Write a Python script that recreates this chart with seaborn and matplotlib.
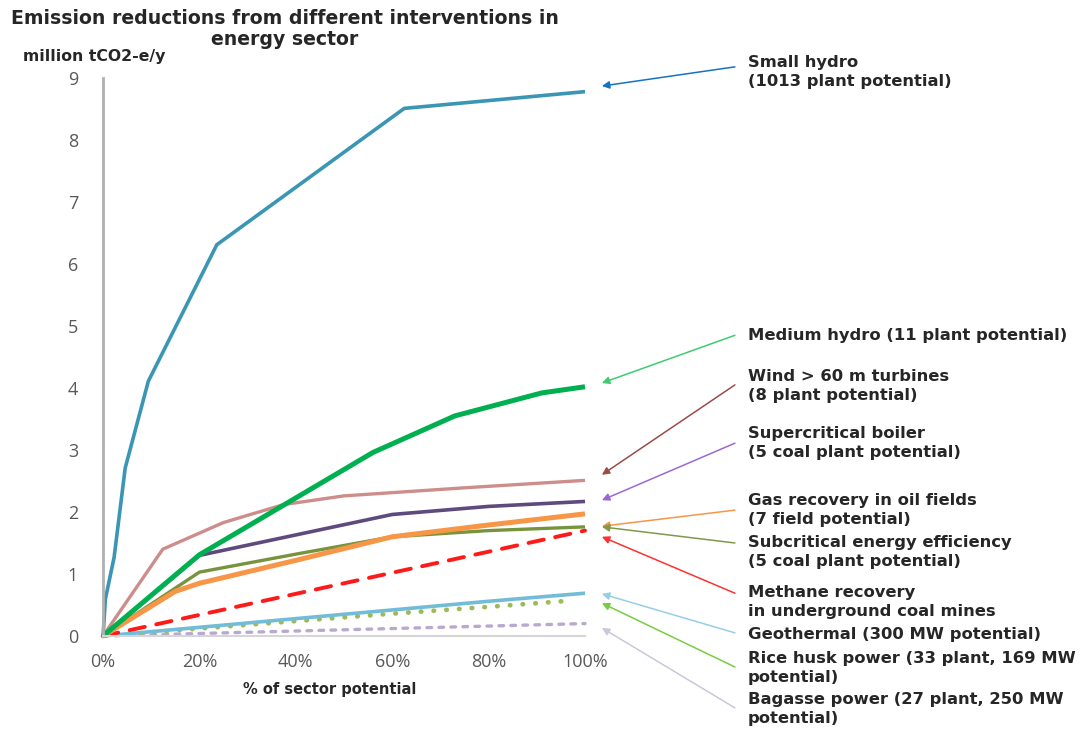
import numpy as np
import pandas as pd
import seaborn as sns
import matplotlib.pyplot as plt

# x = % of sector potential, y = million tCO2-e/y
small_hydro_x = [0, 0.5, 2.3, 4.6, 9.4, 23.6, 62.5, 100]
small_hydro_y = [0, 0.6, 1.27, 2.71, 4.11, 6.31, 8.51, 8.78]
medium_hydro_x = [0, 20, 56, 73, 91, 100]
medium_hydro_y = [0, 1.31, 2.96, 3.55, 3.92, 4.02]
wind_x = [0, 12.4, 25, 37.5, 50, 75, 100]
wind_y = [0, 1.40, 1.83, 2.12, 2.26, 2.39, 2.51]
supercrit_x = [0, 20, 40, 60, 80, 100]
supercrit_y = [0, 1.30, 1.63, 1.96, 2.09, 2.17]
gas_x = [0, 15, 20, 40, 60, 80, 100]
gas_y = [0, 0.72, 0.85, 1.22, 1.60, 1.79, 1.97]
subcrit_x = [0, 20, 40, 60, 80, 100]
subcrit_y = [0, 1.03, 1.32, 1.60, 1.70, 1.76]
methane_x = [0, 20, 40, 60, 80, 100]
methane_y = [0, 0.34, 0.68, 1.02, 1.36, 1.70]
geo_x = [0, 20, 40, 60, 80, 100]
geo_y = [0, 0.14, 0.28, 0.42, 0.56, 0.69]
rice_x = [0, 20, 40, 60, 80, 97]
rice_y = [0, 0.12, 0.24, 0.36, 0.47, 0.57]
bagasse_x = [0, 20, 40, 60, 80, 100]
bagasse_y = [0, 0.04, 0.08, 0.12, 0.16, 0.20]

labels = ['Small hydro\n(1013 plant potential)',
          'Medium hydro (11 plant potential)',
          'Wind > 60 m turbines\n(8 plant potential)',
          'Supercritical boiler\n(5 coal plant potential)',
          'Gas recovery in oil fields\n(7 field potential)',
          'Subcritical energy efficiency\n(5 coal plant potential)',
          'Methane recovery\nin underground coal mines',
          'Geothermal (300 MW potential)',
          'Rice husk power (33 plant, 169 MW\npotential)',
          'Bagasse power (27 plant, 250 MW\npotential)']

# arrow head y, arrow tail y, label y (data units)
head_y = [8.87, 4.08, 2.60, 2.19, 1.77, 1.76, 1.60, 0.68, 0.53, 0.13]
tail_y = [9.18, 4.85, 4.05, 3.11, 2.03, 1.50, 0.69, 0.05, -0.50, -1.16]
text_y = [9.10, 4.85, 4.03, 3.11, 2.03, 1.35, 0.55, 0.02, -0.52, -1.18]

sns.set_style('white')
plt.rcParams['font.family'] = ['Open Sans', 'DejaVu Sans']
bold_font = ['DejaVu Sans']

fig = plt.figure(figsize=(10.88, 7.29), dpi=100)
ax = fig.add_axes([0.0947, 0.1276, 0.443, 0.7654])

series = [
    (small_hydro_x, small_hydro_y, '#3A96B4', 2.6, '-'),
    (medium_hydro_x, medium_hydro_y, '#00B050', 3.6, '-'),
    (wind_x, wind_y, '#CD8E8B', 2.4, '-'),
    (supercrit_x, supercrit_y, '#5F4A7E', 2.6, '-'),
    (gas_x, gas_y, '#F79646', 3.6, '-'),
    (subcrit_x, subcrit_y, '#77933C', 2.4, '-'),
    (methane_x, methane_y, '#FF1A1A', 2.8, (0, (4, 3))),
    (geo_x, geo_y, '#72BCD8', 2.6, '-'),
    (rice_x, rice_y, '#9BBB59', 3.4, (0, (0.1, 2.6))),
    (bagasse_x, bagasse_y, '#B9A9CF', 2.4, (0, (1.4, 2.2))),
]
arrow_colors = ['#1673C4', '#3FCB70', '#9E4A48', '#9B68D2', '#F79646',
                '#7E9A4A', '#FF3030', '#96CFE4', '#77CC44', '#C8C8D8']

# draw bottom-most series first so the big ones sit on top
for xs, ys, c, lw, ls in series[::-1]:
    sns.lineplot(x=xs, y=ys, ax=ax, color=c, lw=lw, linestyle=ls,
                 dash_capstyle='round', solid_capstyle='butt', clip_on=False)

ax.set_xlim(0, 100)
ax.set_ylim(0, 9)
ax.set_xticks([0, 20, 40, 60, 80, 100])
ax.set_xticklabels(['0%', '20%', '40%', '60%', '80%', '100%'])
ax.set_yticks(range(10))
ax.tick_params(axis='both', length=0, labelsize=13, colors='#595959')
ax.tick_params(axis='x', pad=12)
ax.tick_params(axis='y', pad=18)
for s in ['top', 'right']:
    ax.spines[s].set_visible(False)
ax.spines['left'].set_color('#B0B0B0')
ax.spines['left'].set_linewidth(2)
ax.spines['bottom'].set_color('#D6D6D6')
ax.spines['bottom'].set_linewidth(1.5)
ax.set_xlabel('')
ax.set_ylabel('')

for lab, hy, ty, txy, ac in zip(labels, head_y, tail_y, text_y, arrow_colors):
    ax.annotate('', xy=(103.5, hy), xytext=(131.1, ty), annotation_clip=False,
                arrowprops=dict(arrowstyle='-|>', color=ac, lw=1.1,
                                mutation_scale=11, shrinkA=0, shrinkB=0))
    ax.text(133.8, txy, lab, ha='left', va='center', fontsize=11.8,
            fontweight='bold', family=bold_font, color='#262626',
            linespacing=1.3, clip_on=False)

fig.text(0.262, 0.960, 'Emission reductions from different interventions in\nenergy sector',
         ha='center', va='center', fontsize=13.6, fontweight='bold',
         family=bold_font, color='#262626', linespacing=1.12)
fig.text(0.087, 0.923, 'million tCO2-e/y', ha='center', va='center',
         fontsize=11.3, fontweight='bold', family=bold_font, color='#262626')
fig.text(0.303, 0.0535, '% of sector potential', ha='center', va='center',
         fontsize=10.5, fontweight='bold', family=bold_font, color='#262626')

fig.savefig('out.png', dpi=100, facecolor='white')
